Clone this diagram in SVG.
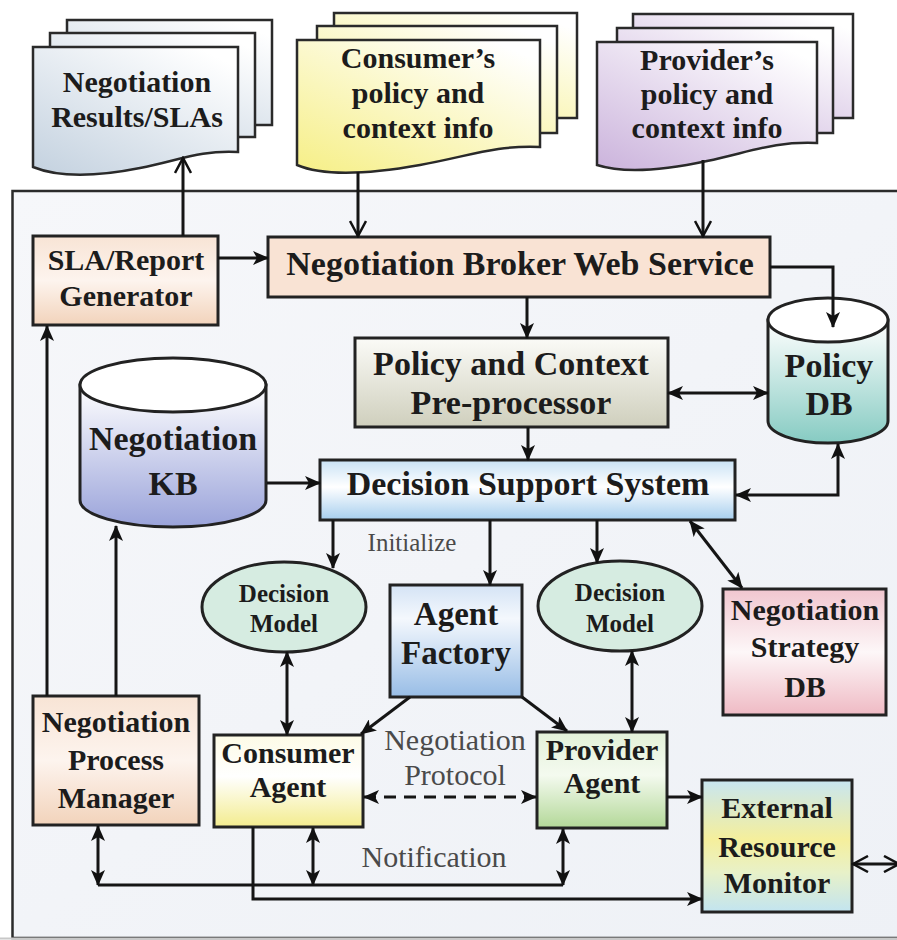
<svg xmlns="http://www.w3.org/2000/svg" width="897" height="940" viewBox="0 0 897 940">
  <defs>
    <style>
      .box { stroke: #222; stroke-width: 3; }
      .page { stroke: #2a2a2a; stroke-width: 2.5; }
      .lbl { font-family: 'Liberation Serif', 'DejaVu Serif', serif; font-weight: bold; fill: #1c1c1c; text-anchor: middle; }
      .note { font-family: 'Liberation Serif', 'DejaVu Serif', serif; fill: #4a4a4a; text-anchor: middle; }
      .wire { fill: none; stroke: #151515; stroke-width: 3; }
      .arr { marker-end: url(#head); }
      .arr2 { marker-start: url(#head); marker-end: url(#head); }
      .open { marker-end: url(#chev); }
      .open2 { marker-start: url(#chev); marker-end: url(#chev); }
    </style>
    <marker id="head" viewBox="0 0 16 14" refX="15" refY="7" markerWidth="16" markerHeight="14" markerUnits="userSpaceOnUse" orient="auto-start-reverse">
      <path d="M0,0 L16,7 L0,14 L4,7 z" fill="#111"/>
    </marker>
    <marker id="chev" viewBox="0 0 18 18" refX="16" refY="9" markerWidth="18" markerHeight="18" markerUnits="userSpaceOnUse" orient="auto-start-reverse">
      <path d="M1,1 L16,9 L1,17" fill="none" stroke="#111" stroke-width="2.5"/>
    </marker>
    <linearGradient id="gFrame" x1="0" y1="0" x2="1" y2="1">
      <stop offset="0" stop-color="#f6f7fa"/>
      <stop offset="1" stop-color="#eef1f6"/>
    </linearGradient>
    <linearGradient id="gSla" x1="0" y1="1" x2="0.8" y2="0">
      <stop offset="0" stop-color="#c3d1df"/>
      <stop offset="1" stop-color="#ffffff"/>
    </linearGradient>
    <linearGradient id="gCons" x1="0" y1="1" x2="0.8" y2="0">
      <stop offset="0" stop-color="#f6ef86"/>
      <stop offset="1" stop-color="#ffffff"/>
    </linearGradient>
    <linearGradient id="gProv" x1="0" y1="1" x2="0.8" y2="0">
      <stop offset="0" stop-color="#cbb3dc"/>
      <stop offset="1" stop-color="#ffffff"/>
    </linearGradient>
    <linearGradient id="gPeach" x1="0" y1="0" x2="0" y2="1">
      <stop offset="0" stop-color="#f8e4d5"/>
      <stop offset="0.5" stop-color="#fdf4ee"/>
      <stop offset="1" stop-color="#f2d3bb"/>
    </linearGradient>
    <linearGradient id="gKhaki" x1="0" y1="0" x2="0" y2="1">
      <stop offset="0" stop-color="#fbfbf7"/>
      <stop offset="1" stop-color="#cfcfbd"/>
    </linearGradient>
    <linearGradient id="gBlue" x1="0" y1="0" x2="0" y2="1">
      <stop offset="0" stop-color="#c9e2f5"/>
      <stop offset="0.45" stop-color="#ffffff"/>
      <stop offset="1" stop-color="#a6ceee"/>
    </linearGradient>
    <linearGradient id="gKb" x1="0" y1="0" x2="0" y2="1">
      <stop offset="0" stop-color="#ffffff"/>
      <stop offset="1" stop-color="#9aa3da"/>
    </linearGradient>
    <linearGradient id="gDb" x1="0" y1="0" x2="0" y2="1">
      <stop offset="0" stop-color="#ffffff"/>
      <stop offset="1" stop-color="#86cbc2"/>
    </linearGradient>
    <linearGradient id="gFactory" x1="0" y1="0" x2="0" y2="1">
      <stop offset="0" stop-color="#d4e3f5"/>
      <stop offset="0.3" stop-color="#f4f8fd"/>
      <stop offset="1" stop-color="#98bde6"/>
    </linearGradient>
    <linearGradient id="gYellow" x1="0" y1="0" x2="0" y2="1">
      <stop offset="0" stop-color="#fdfbe6"/>
      <stop offset="0.45" stop-color="#ffffff"/>
      <stop offset="1" stop-color="#f3ec8e"/>
    </linearGradient>
    <linearGradient id="gGreen" x1="0" y1="0" x2="0" y2="1">
      <stop offset="0" stop-color="#e3f1d8"/>
      <stop offset="0.45" stop-color="#f4faef"/>
      <stop offset="1" stop-color="#b3d898"/>
    </linearGradient>
    <linearGradient id="gPink" x1="0" y1="0" x2="0" y2="1">
      <stop offset="0" stop-color="#f1c6cf"/>
      <stop offset="0.5" stop-color="#fdf7f8"/>
      <stop offset="1" stop-color="#efbac4"/>
    </linearGradient>
    <linearGradient id="gMonitor" x1="0" y1="0" x2="0" y2="1">
      <stop offset="0" stop-color="#c8e6f1"/>
      <stop offset="0.45" stop-color="#f5ef9c"/>
      <stop offset="0.7" stop-color="#e8f1c8"/>
      <stop offset="1" stop-color="#c2e4f0"/>
    </linearGradient>
  </defs>

  <rect x="0" y="0" width="897" height="940" fill="#ffffff"/>

  <!-- system boundary -->
  <rect x="12.5" y="191" width="900" height="747" fill="url(#gFrame)" stroke="#2b2b2b" stroke-width="2.5"/>
  <line x1="0" y1="938.5" x2="897" y2="938.5" stroke="#c8c8c8" stroke-width="2"/>

  <!-- document stacks -->
  <g id="doc-results">
    <rect class="page" x="67" y="20" width="205" height="105" fill="url(#gSla)"/>
    <rect class="page" x="50" y="33" width="205" height="104" fill="url(#gSla)"/>
    <path class="page" d="M33,47 H238 V152 C200,150 180,160 140,168 C100,176 60,178 33,167 Z" fill="url(#gSla)"/>
    <text class="lbl" font-size="30" x="137" y="92">Negotiation</text>
    <text class="lbl" font-size="30" x="137" y="127">Results/SLAs</text>
  </g>
  <g id="doc-consumer">
    <rect class="page" x="334" y="13" width="243" height="105" fill="url(#gCons)"/>
    <rect class="page" x="317" y="26" width="240" height="107" fill="url(#gCons)"/>
    <path class="page" d="M297,40 H540 V147 C495,145 470,156 420,165 C375,173 325,177 297,165 Z" fill="url(#gCons)"/>
    <text class="lbl" font-size="30" x="418" y="68">Consumer’s</text>
    <text class="lbl" font-size="30" x="418" y="103">policy and</text>
    <text class="lbl" font-size="30" x="418" y="138">context info</text>
  </g>
  <g id="doc-provider">
    <rect class="page" x="633" y="14" width="220" height="104" fill="url(#gProv)"/>
    <rect class="page" x="617" y="28" width="216" height="105" fill="url(#gProv)"/>
    <path class="page" d="M597,42 H817 V143 C775,141 750,152 707,161 C665,170 625,174 597,165 Z" fill="url(#gProv)"/>
    <text class="lbl" font-size="30" x="707" y="70">Provider’s</text>
    <text class="lbl" font-size="30" x="707" y="104">policy and</text>
    <text class="lbl" font-size="30" x="707" y="138">context info</text>
  </g>

  <!-- components -->
  <g id="sla-generator">
    <rect class="box" x="33" y="236" width="185" height="89" fill="url(#gPeach)"/>
    <text class="lbl" font-size="30" x="126" y="270">SLA/Report</text>
    <text class="lbl" font-size="30" x="126" y="306">Generator</text>
  </g>
  <g id="broker">
    <rect class="box" x="268" y="237" width="502" height="60" fill="#f9e3d4"/>
    <text class="lbl" font-size="34" x="520" y="275">Negotiation Broker Web Service</text>
  </g>
  <g id="preprocessor">
    <rect class="box" x="355" y="338" width="313" height="89" fill="url(#gKhaki)"/>
    <text class="lbl" font-size="34" x="511" y="375">Policy and Context</text>
    <text class="lbl" font-size="34" x="511" y="414">Pre-processor</text>
  </g>
  <g id="policy-db">
    <path class="box" d="M768,320 V421 A60,22 0 0 0 888,421 V320 Z" fill="url(#gDb)"/>
    <ellipse class="box" cx="828" cy="320" rx="60" ry="22" fill="#ffffff"/>
    <text class="lbl" font-size="34" x="829" y="377">Policy</text>
    <text class="lbl" font-size="34" x="829" y="415">DB</text>
  </g>
  <g id="negotiation-kb">
    <path class="box" d="M80,385 V500 A93,27 0 0 0 266,500 V385 Z" fill="url(#gKb)"/>
    <ellipse class="box" cx="173" cy="385" rx="93" ry="27" fill="#ffffff"/>
    <text class="lbl" font-size="34" x="173" y="450">Negotiation</text>
    <text class="lbl" font-size="34" x="173" y="495">KB</text>
  </g>
  <g id="dss">
    <rect class="box" x="320" y="460" width="415" height="60" fill="url(#gBlue)"/>
    <text class="lbl" font-size="34" x="528" y="495">Decision Support System</text>
  </g>
  <g id="decision-model-consumer">
    <ellipse class="box" cx="284" cy="607" rx="82" ry="45" fill="#d6ece1"/>
    <text class="lbl" font-size="25" x="284" y="602">Decision</text>
    <text class="lbl" font-size="25" x="284" y="632">Model</text>
  </g>
  <g id="decision-model-provider">
    <ellipse class="box" cx="620" cy="606" rx="82" ry="45" fill="#d6ece1"/>
    <text class="lbl" font-size="25" x="620" y="601">Decision</text>
    <text class="lbl" font-size="25" x="620" y="632">Model</text>
  </g>
  <g id="agent-factory">
    <rect class="box" x="390" y="585" width="132" height="112" fill="url(#gFactory)"/>
    <text class="lbl" font-size="33" x="456" y="625">Agent</text>
    <text class="lbl" font-size="33" x="456" y="664">Factory</text>
  </g>
  <g id="strategy-db">
    <rect class="box" x="723" y="589" width="163" height="126" fill="url(#gPink)"/>
    <text class="lbl" font-size="30" x="805" y="620">Negotiation</text>
    <text class="lbl" font-size="30" x="805" y="657">Strategy</text>
    <text class="lbl" font-size="30" x="805" y="697">DB</text>
  </g>
  <g id="process-manager">
    <rect class="box" x="33" y="696" width="166" height="129" fill="url(#gPeach)"/>
    <text class="lbl" font-size="30" x="116" y="732">Negotiation</text>
    <text class="lbl" font-size="30" x="116" y="770">Process</text>
    <text class="lbl" font-size="30" x="116" y="808">Manager</text>
  </g>
  <g id="consumer-agent">
    <rect class="box" x="214" y="735" width="149" height="92" fill="url(#gYellow)"/>
    <text class="lbl" font-size="30" x="288" y="763">Consumer</text>
    <text class="lbl" font-size="30" x="288" y="797">Agent</text>
  </g>
  <g id="provider-agent">
    <rect class="box" x="537" y="732" width="130" height="96" fill="url(#gGreen)"/>
    <text class="lbl" font-size="30" x="602" y="760">Provider</text>
    <text class="lbl" font-size="30" x="602" y="793">Agent</text>
  </g>
  <g id="resource-monitor">
    <rect class="box" x="702" y="780" width="150" height="132" fill="url(#gMonitor)"/>
    <text class="lbl" font-size="30" x="777" y="818">External</text>
    <text class="lbl" font-size="30" x="777" y="857">Resource</text>
    <text class="lbl" font-size="30" x="777" y="893">Monitor</text>
  </g>

  <!-- connectors -->
  <g id="connectors">
    <line class="wire open" x1="183" y1="236" x2="183" y2="158"/>
    <line class="wire open" x1="358" y1="172" x2="358" y2="236"/>
    <line class="wire open" x1="703" y1="160" x2="703" y2="236"/>
    <line class="wire arr" x1="218" y1="258" x2="268" y2="258"/>
    <path class="wire arr" d="M770,267 H833 V327"/>
    <line class="wire arr" x1="527" y1="297" x2="527" y2="338"/>
    <line class="wire arr2" x1="668" y1="393" x2="768" y2="393"/>
    <line class="wire arr" x1="528" y1="427" x2="528" y2="460"/>
    <path class="wire arr2" d="M838,444 V495 H736"/>
    <line class="wire arr" x1="267" y1="483" x2="320" y2="483"/>
    <line class="wire arr" x1="333" y1="520" x2="333" y2="568"/>
    <line class="wire arr" x1="490" y1="520" x2="490" y2="585"/>
    <line class="wire arr" x1="597" y1="520" x2="597" y2="563"/>
    <line class="wire arr2" x1="690" y1="521" x2="742" y2="588"/>
    <line class="wire arr" x1="410" y1="697" x2="361" y2="734"/>
    <line class="wire arr" x1="522" y1="697" x2="567" y2="731"/>
    <line class="wire arr2" x1="287" y1="652" x2="287" y2="735"/>
    <line class="wire arr2" x1="632" y1="651" x2="632" y2="732"/>
    <line class="wire arr2" x1="364" y1="797" x2="536" y2="797" stroke-dasharray="12 8"/>
    <line class="wire arr" x1="667" y1="797" x2="702" y2="797"/>
    <line class="wire arr" x1="47" y1="696" x2="47" y2="326"/>
    <line class="wire arr" x1="116" y1="696" x2="116" y2="526"/>
    <path class="wire" d="M98,885 H563"/>
    <line class="wire arr2" x1="98" y1="826" x2="98" y2="885"/>
    <line class="wire arr2" x1="313" y1="828" x2="313" y2="885"/>
    <line class="wire arr2" x1="563" y1="829" x2="563" y2="885"/>
    <path class="wire arr" d="M253,827 V899 H702"/>
    <line class="wire open2" x1="853" y1="864" x2="899" y2="864"/>
    <text class="note" font-size="25" x="412" y="551">Initialize</text>
    <text class="note" font-size="30" x="455" y="750">Negotiation</text>
    <text class="note" font-size="30" x="455" y="785">Protocol</text>
    <text class="note" font-size="30" x="434" y="867">Notification</text>
  </g>
</svg>
